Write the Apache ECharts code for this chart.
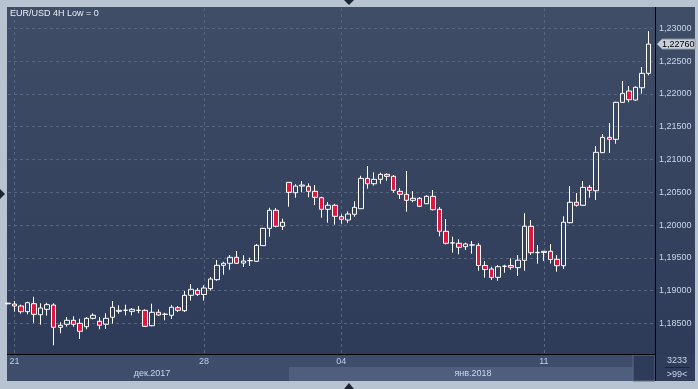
<!DOCTYPE html>
<html>
<head>
<meta charset="utf-8">
<script src="https://cdn.jsdelivr.net/npm/echarts@6/dist/echarts.min.js"></script>
<style>html,body{margin:0;padding:0;background:#b8c3d1;}#c{width:698px;height:389px;}</style>
</head>
<body>
<div id="c"></div>
<script>
const titleText = 'EUR/USD 4H Low = 0';
const tickIndex = [1, 30, 51, 82];
const tickLabels = ['21', '28', '04', '11'];
const monthLabels = ['дек.2017', 'янв.2018'];
const lastPrice = 1.22760;
const footerTop = '3233';
const footerBottom = '>99<';

const opens = [1.18800,1.18797,1.18767,1.18680,1.18802,1.18634,1.18716,1.18782,1.18442,1.18488,
1.18549,1.18503,1.18451,1.18579,1.18534,1.18488,1.18595,1.18686,1.18701,1.18686,
1.18700,1.18701,1.18466,1.18671,1.18640,1.18625,1.18741,1.18695,1.18930,1.19006,
1.18942,1.19031,1.19168,1.19387,1.19418,1.19509,1.19422,1.19457,1.19448,1.19687,
1.19951,1.20226,1.19982,1.20652,1.20494,1.20596,1.20591,1.20515,1.20418,1.20241,
1.20302,1.20128,1.20078,1.20165,1.20250,1.20713,1.20631,1.20698,1.20774,1.20744,
1.20515,1.20470,1.20378,1.20409,1.20326,1.20439,1.20241,1.19906,1.19727,1.19723,
1.19671,1.19696,1.19692,1.19384,1.19331,1.19204,1.19372,1.19384,1.19351,1.19463,
1.19982,1.19579,1.19582,1.19601,1.19479,1.19381,1.20037,1.20348,1.20302,1.20576,
1.20524,1.21104,1.21338,1.21308,1.21872,1.22044,1.21907,1.22094,1.22314];
const closes = [1.18810,1.18767,1.18680,1.18817,1.18640,1.18736,1.18787,1.18442,1.18473,1.18549,
1.18488,1.18381,1.18579,1.18625,1.18473,1.18579,1.18747,1.18701,1.18703,1.18716,
1.18702,1.18457,1.18671,1.18630,1.18642,1.18747,1.18701,1.18930,1.19021,1.18945,
1.19041,1.19178,1.19387,1.19418,1.19509,1.19418,1.19453,1.19459,1.19692,1.19951,
1.20226,1.19982,1.20043,1.20500,1.20596,1.20611,1.20515,1.20424,1.20241,1.20303,
1.20134,1.20088,1.20169,1.20271,1.20713,1.20631,1.20698,1.20774,1.20744,1.20531,
1.20470,1.20378,1.20409,1.20287,1.20439,1.20235,1.19906,1.19723,1.19729,1.19662,
1.19712,1.19698,1.19384,1.19323,1.19201,1.19366,1.19374,1.19357,1.19465,1.19983,
1.19579,1.19585,1.19601,1.19476,1.19381,1.20044,1.20348,1.20302,1.20576,1.20531,
1.21110,1.21338,1.21308,1.21872,1.22009,1.21912,1.22101,1.22314,1.22760];
const lows = [1.18795,1.18680,1.18649,1.18640,1.18512,1.18482,1.18619,1.18168,1.18351,1.18451,
1.18451,1.18264,1.18412,1.18564,1.18412,1.18416,1.18497,1.18649,1.18625,1.18625,
1.18656,1.18451,1.18457,1.18614,1.18549,1.18569,1.18675,1.18675,1.18848,1.18919,
1.18848,1.19000,1.19152,1.19244,1.19320,1.19407,1.19361,1.19377,1.19442,1.19682,
1.19823,1.19966,1.19925,1.20281,1.20418,1.20500,1.20424,1.20306,1.20113,1.20037,
1.20006,1.20021,1.20032,1.20128,1.20248,1.20555,1.20601,1.20631,1.20677,1.20494,
1.20398,1.20204,1.20348,1.20281,1.20320,1.20225,1.19829,1.19707,1.19579,1.19555,
1.19620,1.19564,1.19305,1.19198,1.19163,1.19152,1.19274,1.19320,1.19224,1.19305,
1.19544,1.19412,1.19453,1.19415,1.19290,1.19331,1.20027,1.20281,1.20291,1.20418,
1.20383,1.21100,1.21100,1.21241,1.21861,1.21872,1.21896,1.22003,1.22284];
const highs = [1.18815,1.18843,1.18787,1.18832,1.18909,1.18808,1.18817,1.18808,1.18518,1.18599,
1.18610,1.18573,1.18599,1.18656,1.18599,1.18656,1.18843,1.18777,1.18787,1.18736,
1.18767,1.18716,1.18802,1.18716,1.18665,1.18782,1.18767,1.18995,1.19102,1.19041,
1.19082,1.19209,1.19468,1.19442,1.19544,1.19605,1.19540,1.19503,1.19712,1.19956,
1.20265,1.20261,1.20098,1.20655,1.20622,1.20672,1.20637,1.20611,1.20433,1.20352,
1.20326,1.20165,1.20210,1.20363,1.20753,1.20901,1.20805,1.20799,1.20789,1.20764,
1.20566,1.20825,1.20520,1.20428,1.20454,1.20535,1.20276,1.20093,1.19823,1.19784,
1.19732,1.19758,1.19727,1.19453,1.19366,1.19392,1.19395,1.19494,1.19544,1.20181,
1.20078,1.19697,1.19604,1.19712,1.19544,1.20136,1.20596,1.20489,1.20672,1.20611,
1.21206,1.21389,1.21556,1.21881,1.22197,1.22120,1.22115,1.22410,1.22959];

const FONT = '"Liberation Sans", Arial, sans-serif';
const categories = [];
for (let i = 0; i < opens.length + 1; i++) {
  const k = tickIndex.indexOf(i);
  categories.push(k >= 0 ? tickLabels[k] : '');
}
const candleData = opens.map((o, i) => [o, closes[i], lows[i], highs[i]]);
const showTick = (idx) => tickIndex.indexOf(idx) >= 0;
const dash = { color: '#56647f', type: [3, 3], width: 1 };

const chart = echarts.init(document.getElementById('c'), null, { renderer: 'canvas' });

const bgGraphics = [
  { type: 'rect', z: -10, shape: { x: 7, y: 7, width: 688, height: 348 },
    style: { fill: new echarts.graphic.LinearGradient(0, 0, 0, 1, [
      { offset: 0, color: '#404d66' }, { offset: 1, color: '#2d3b59' }]) } },
  { type: 'rect', z: -10, shape: { x: 7, y: 355, width: 648, height: 26 }, style: { fill: '#3e4d69' } },
  { type: 'rect', z: -10, shape: { x: 289, y: 367, width: 344, height: 14 }, style: { fill: '#4e5e7c' } },
  { type: 'rect', z: -10, shape: { x: 633, y: 355, width: 22, height: 26 }, style: { fill: '#2e3c59', stroke: '#5d6b84', lineWidth: 1 } },
  { type: 'rect', z: -10, shape: { x: 655, y: 355, width: 40, height: 26 }, style: { fill: '#2f3d5a' } },
  { type: 'line', z: 5, shape: { x1: 7, y1: 354.5, x2: 655, y2: 354.5 }, style: { stroke: '#000', lineWidth: 1 } },
  { type: 'line', z: 5, shape: { x1: 655.5, y1: 7, x2: 655.5, y2: 381 }, style: { stroke: '#000', lineWidth: 1 } },
  { type: 'line', z: 5, shape: { x1: 665, y1: 367.5, x2: 690, y2: 367.5 }, style: { stroke: '#1c2436', lineWidth: 1 } },
  { type: 'text', z: 6, style: { text: footerTop, x: 677, y: 361, align: 'center', verticalAlign: 'middle', font: '9px ' + FONT, fill: '#c8d6ea' } },
  { type: 'text', z: 6, style: { text: footerBottom, x: 677, y: 374.5, align: 'center', verticalAlign: 'middle', font: '9px ' + FONT, fill: '#c8d6ea' } },
  { type: 'text', z: 6, style: { text: monthLabels[0], x: 152, y: 373.5, align: 'center', verticalAlign: 'middle', font: '9px ' + FONT, fill: '#c8d8ee' } },
  { type: 'text', z: 6, style: { text: monthLabels[1], x: 473, y: 373.5, align: 'center', verticalAlign: 'middle', font: '9px ' + FONT, fill: '#c8d8ee' } },
  { type: 'polygon', z: 6, shape: { points: [[344, 0], [354, 0], [349, 5]] }, style: { fill: '#1c2434' } },
  { type: 'polygon', z: 6, shape: { points: [[344, 389], [354, 389], [349, 383]] }, style: { fill: '#1c2434' } },
  { type: 'polygon', z: 6, shape: { points: [[0, 189], [0, 199], [5, 194]] }, style: { fill: '#1c2434' } }
];

chart.setOption({
  animation: false,
  backgroundColor: '#b8c3d1',
  title: { text: titleText, left: 10, top: 9, padding: 0,
    textStyle: { fontSize: 9, fontWeight: 'normal', color: '#e8eef6', fontFamily: FONT } },
  grid: { left: 8, right: 43, top: 8, bottom: 32.7, containLabel: false },
  xAxis: {
    type: 'category', data: categories, boundaryGap: false,
    axisLine: { show: false }, axisTick: { show: false },
    axisLabel: { interval: (i) => showTick(i), margin: 1, fontSize: 9, color: '#b9d0ef', fontFamily: FONT },
    splitLine: { show: true, interval: (i) => showTick(i), lineStyle: dash }
  },
  yAxis: {
    type: 'value', position: 'right', min: 1.18, max: 1.2331, interval: 0.005, scale: true,
    axisLine: { show: false }, axisTick: { show: false },
    axisLabel: { margin: 4, fontSize: 9, color: '#c9d6e8', fontFamily: FONT,
      showMinLabel: false, showMaxLabel: false,
      formatter: (v) => v.toFixed(5).replace('.', ',') },
    splitLine: { show: true, showMinLine: false, showMaxLine: false, lineStyle: dash }
  },
  series: [{
    type: 'candlestick', data: candleData, barWidth: 5, clip: true,
    itemStyle: { color: 'rgba(0,0,0,0)', color0: '#e3153d', borderColor: '#ffffff', borderColor0: '#ffffff', borderWidth: 1 }
  }],
  graphic: bgGraphics
});

const py = chart.convertToPixel({ yAxisIndex: 0 }, lastPrice);
chart.setOption({
  graphic: bgGraphics.concat([
    { type: 'polygon', z: 7, shape: { points: [[657, py], [662, py - 5], [695, py - 5], [695, py + 5], [662, py + 5]] },
      style: { fill: '#c9d0da', stroke: '#8c97a8', lineWidth: 1 } },
    { type: 'text', z: 8, style: { text: lastPrice.toFixed(5).replace('.', ','), x: 662, y: py + 0.5, align: 'left', verticalAlign: 'middle', font: '9px ' + FONT, fill: '#000' } }
  ])
});
</script>
</body>
</html>
